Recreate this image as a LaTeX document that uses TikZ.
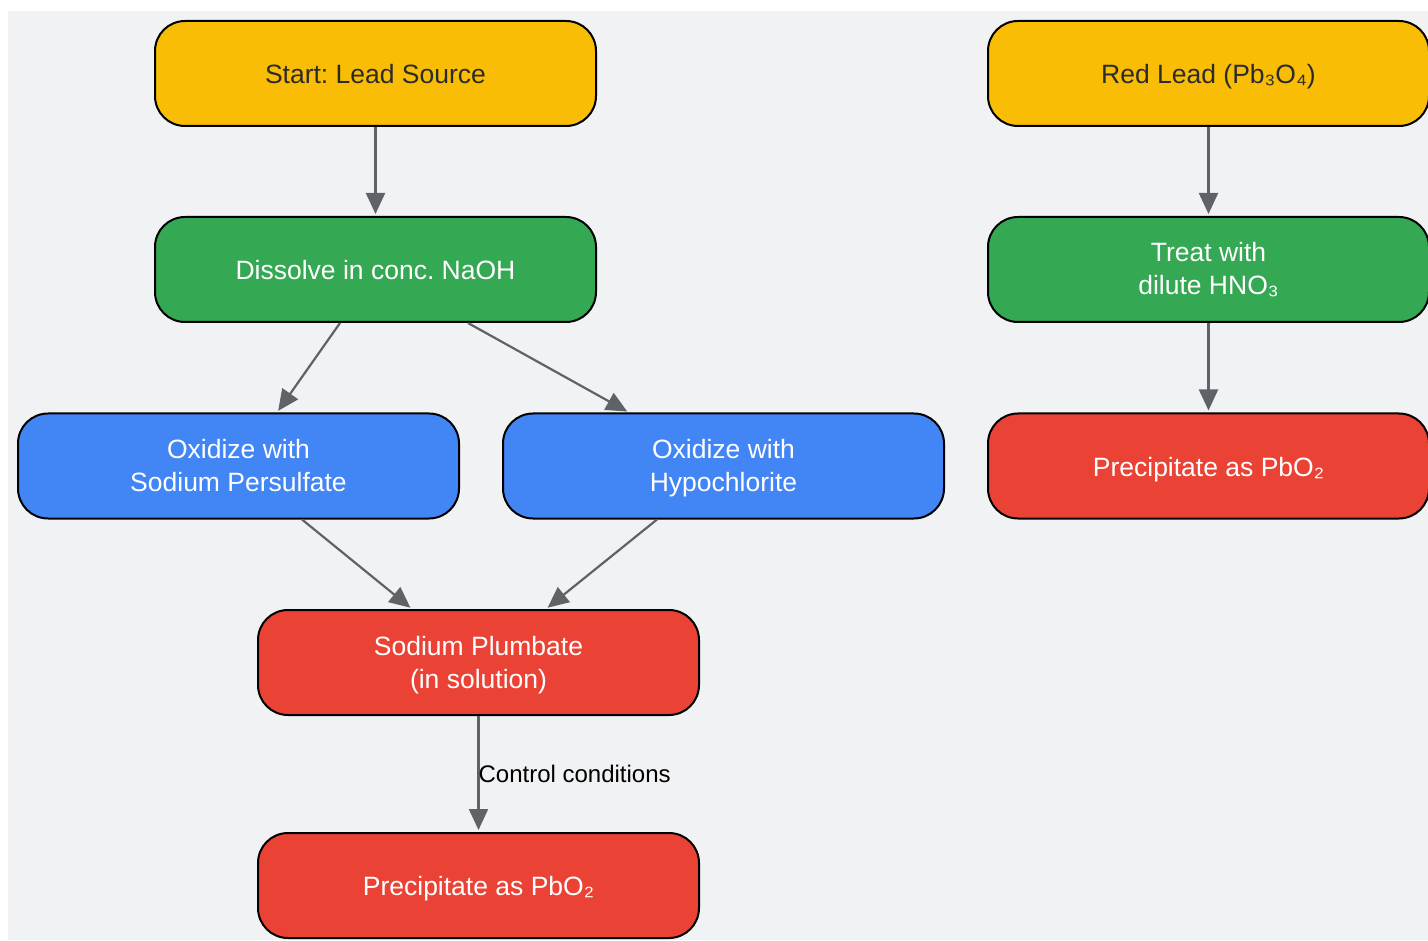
\documentclass[tikz,border=0pt]{standalone}
\usepackage{fontspec}
\setmainfont{Liberation Sans}
\frenchspacing
\usetikzlibrary{arrows.meta,calc}
\definecolor{bggray}{HTML}{F1F2F4}
\definecolor{cyellow}{HTML}{FABD05}
\definecolor{cgreen}{HTML}{34A853}
\definecolor{cblue}{HTML}{4285F4}
\definecolor{cred}{HTML}{EA4335}
\definecolor{cedge}{HTML}{5F6368}
\definecolor{darktext}{HTML}{2B2B2B}
\tikzset{
  box/.style={draw=black, line width=2pt, rounded corners=30pt, minimum width=441pt, minimum height=105pt, inner sep=0pt, align=center, font=\fontsize{26.5}{33}\selectfont,
    execute at begin node={\rule[-6pt]{0pt}{32pt}},
    execute at end node={\rule[-6pt]{0pt}{6pt}}},
  twoline/.style={execute at begin node={\rule[-6pt]{0pt}{63pt}}},
  ybox/.style={box, fill=cyellow, text=darktext},
  gbox/.style={box, fill=cgreen, text=white},
  bbox/.style={box, fill=cblue, text=white},
  rbox/.style={box, fill=cred, text=white},
  conn/.style={draw=cedge, line width=2.2pt, -{Triangle[length=21pt,width=19pt]}, shorten >=2pt},
  lbl/.style={font=\fontsize{24}{28}\selectfont, text=black, inner sep=0pt}
}
\begin{document}
\begin{tikzpicture}[x=1pt,y=1pt]
\useasboundingbox (0,0) rectangle (1428,-941);
\fill[bggray] (8,-11) rectangle (1428,-940);
\node[ybox] (start) at (375.5,-73.5) {Start: Lead Source};
\node[gbox] (dis) at (375.5,-269.5) {Dissolve in conc. NaOH};
\node[bbox,twoline] (ox1) at (238.5,-466) {Oxidize with\\Sodium Persulfate};
\node[bbox,twoline] (ox2) at (723.5,-466) {Oxidize with\\Hypochlorite};
\node[rbox,twoline] (plum) at (478.5,-662.5) {Sodium Plumbate\\(in solution)};
\node[rbox] (pre1) at (478.5,-885.5) {Precipitate as PbO₂};
\node[ybox] (red) at (1208.5,-73.5) {Red Lead (Pb₃O₄)};
\node[gbox,twoline] (treat) at (1208.5,-269.5) {Treat with\\dilute HNO₃};
\node[rbox] (pre2) at (1208.5,-466) {Precipitate as PbO₂};
\draw[conn] (start.south) -- (dis.north);
\draw[conn] ($(dis.south)+(-35.5,0)$) -- ($(ox1.north)+(38.5,0)$);
\draw[conn] ($(dis.south)+(92.5,0)$) -- ($(ox2.north)+(-94.5,0)$);
\draw[conn] ($(ox1.south)+(63.5,0)$) -- ($(plum.north)+(-66.5,0)$);
\draw[conn] ($(ox2.south)+(-66.5,0)$) -- ($(plum.north)+(67.5,0)$);
\draw[conn] (plum.south) -- (pre1.north) node[pos=0.5, lbl, anchor=west, xshift=-1pt] (cc) {Control conditions};
\draw[conn] (red.south) -- (treat.north);
\draw[conn] (treat.south) -- (pre2.north);
\end{tikzpicture}
\end{document}
